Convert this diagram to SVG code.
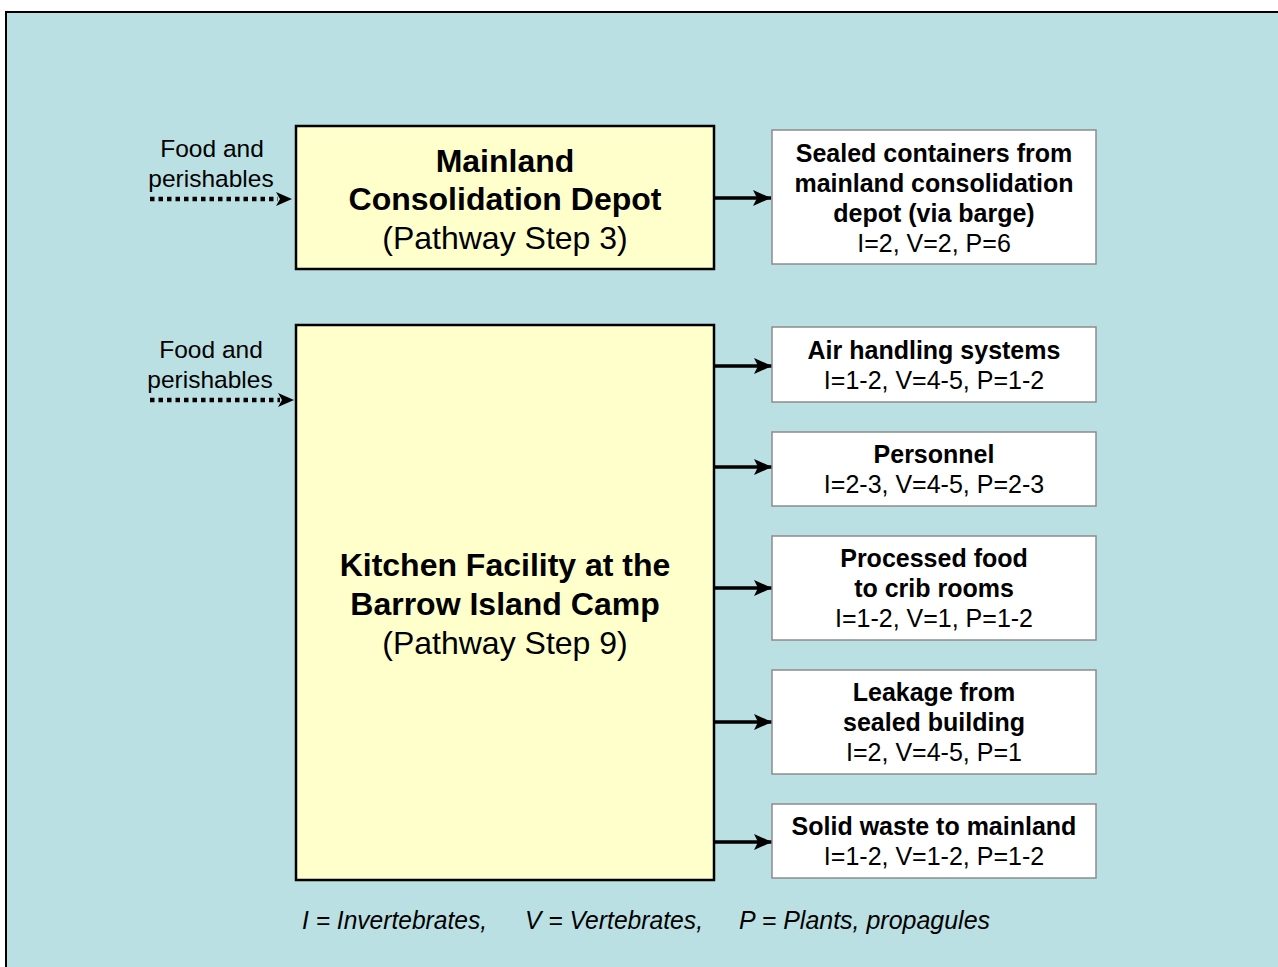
<svg xmlns="http://www.w3.org/2000/svg" width="1278" height="967" viewBox="0 0 1278 967">
  <style>
    .frame { fill: #BAE0E3; stroke: #000; stroke-width: 2; }
    .step { fill: #FFFFCC; stroke: #000; stroke-width: 2.5; }
    .out { fill: #FFFFFF; stroke: #8C8C8C; stroke-width: 1.5; }
    text { font-family: "Liberation Sans", Arial, sans-serif; fill: #000; text-anchor: middle; }
    .title { font-size: 32px; font-weight: bold; }
    .sub { font-size: 32px; }
    .lbl { font-size: 24.5px; }
    .res { font-size: 25px; }
    .hd { font-size: 25px; font-weight: bold; }
    .key { font-size: 26px; font-style: italic; text-anchor: start; }
    .flow { stroke: #000; stroke-width: 3.5; fill: none; }
    .feed { stroke: #000; stroke-width: 4.5; stroke-dasharray: 4.5 4; fill: none; }
  </style>
  <defs>
    <marker id="head" viewBox="0 0 18 16" refX="18" refY="8" markerWidth="18" markerHeight="16" markerUnits="userSpaceOnUse" orient="auto">
      <path d="M0,0 L18,8 L0,16 L4,8 Z" fill="#000"/>
    </marker>
  </defs>

  <rect width="1278" height="967" fill="#FFFFFF"/>
  <rect class="frame" x="6" y="12" width="1290" height="980"/>

  <!-- connectors -->
  <g id="connectors">
    <line class="feed" x1="150" y1="199" x2="278" y2="199"/>
    <path d="M276,192 L292,199 L276,206 L280,199 Z" fill="#000"/>
    <line class="feed" x1="150" y1="400" x2="280" y2="400"/>
    <path d="M278,393 L294,400 L278,407 L282,400 Z" fill="#000"/>
    <line class="flow" x1="715" y1="198" x2="771" y2="198" marker-end="url(#head)"/>
    <line class="flow" x1="715" y1="366" x2="772" y2="366" marker-end="url(#head)"/>
    <line class="flow" x1="715" y1="467" x2="772" y2="467" marker-end="url(#head)"/>
    <line class="flow" x1="715" y1="588" x2="772" y2="588" marker-end="url(#head)"/>
    <line class="flow" x1="715" y1="722" x2="772" y2="722" marker-end="url(#head)"/>
    <line class="flow" x1="715" y1="842" x2="772" y2="842" marker-end="url(#head)"/>
  </g>

  <g id="input-depot">
    <text class="lbl" x="212" y="157">Food and</text>
    <text class="lbl" x="211" y="187">perishables</text>
  </g>
  <g id="input-kitchen">
    <text class="lbl" x="211" y="358">Food and</text>
    <text class="lbl" x="210" y="388">perishables</text>
  </g>

  <g id="depot">
    <rect class="step" x="296" y="126" width="418" height="143"/>
    <text class="title" x="505" y="172">Mainland</text>
    <text class="title" x="505" y="210">Consolidation Depot</text>
    <text class="sub" x="505" y="249">(Pathway Step 3)</text>
  </g>

  <g id="kitchen">
    <rect class="step" x="296" y="325" width="418" height="555"/>
    <text class="title" x="505" y="576">Kitchen Facility at the</text>
    <text class="title" x="505" y="615">Barrow Island Camp</text>
    <text class="sub" x="505" y="654">(Pathway Step 9)</text>
  </g>

  <g id="sealed-containers">
    <rect class="out" x="772" y="130" width="324" height="134"/>
    <text class="hd" x="934" y="162">Sealed containers from</text>
    <text class="hd" x="934" y="192">mainland consolidation</text>
    <text class="hd" x="934" y="222">depot (via barge)</text>
    <text class="res" x="934" y="252">I=2, V=2, P=6</text>
  </g>

  <g id="air-handling">
    <rect class="out" x="772" y="327" width="324" height="75"/>
    <text class="hd" x="934" y="359">Air handling systems</text>
    <text class="res" x="934" y="389">I=1-2, V=4-5, P=1-2</text>
  </g>

  <g id="personnel">
    <rect class="out" x="772" y="432" width="324" height="74"/>
    <text class="hd" x="934" y="463">Personnel</text>
    <text class="res" x="934" y="493">I=2-3, V=4-5, P=2-3</text>
  </g>

  <g id="processed-food">
    <rect class="out" x="772" y="536" width="324" height="104"/>
    <text class="hd" x="934" y="567">Processed food</text>
    <text class="hd" x="934" y="597">to crib rooms</text>
    <text class="res" x="934" y="627">I=1-2, V=1, P=1-2</text>
  </g>

  <g id="leakage">
    <rect class="out" x="772" y="670" width="324" height="104"/>
    <text class="hd" x="934" y="701">Leakage from</text>
    <text class="hd" x="934" y="731">sealed building</text>
    <text class="res" x="934" y="761">I=2, V=4-5, P=1</text>
  </g>

  <g id="solid-waste">
    <rect class="out" x="772" y="804" width="324" height="74"/>
    <text class="hd" x="934" y="835">Solid waste to mainland</text>
    <text class="res" x="934" y="865">I=1-2, V=1-2, P=1-2</text>
  </g>

  <g id="key">
    <text class="key" x="302" y="929" textLength="185" lengthAdjust="spacingAndGlyphs">I = Invertebrates,</text>
    <text class="key" x="525" y="929" textLength="178" lengthAdjust="spacingAndGlyphs">V = Vertebrates,</text>
    <text class="key" x="739" y="929" textLength="251" lengthAdjust="spacingAndGlyphs">P = Plants, propagules</text>
  </g>
</svg>
